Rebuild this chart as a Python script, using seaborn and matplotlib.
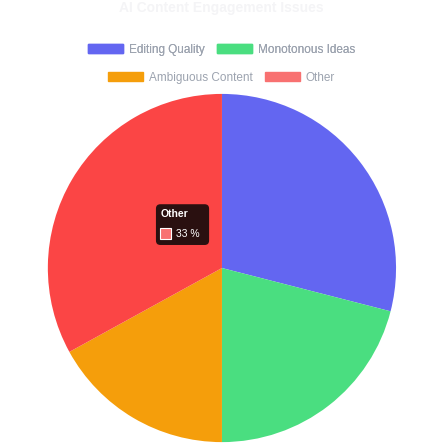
import matplotlib
matplotlib.use("Agg")
import matplotlib.pyplot as plt
import seaborn as sns
from matplotlib.patches import Patch, Rectangle, FancyBboxPatch

sns.set_theme(style="white")
plt.rcParams['font.family'] = ['Liberation Sans', 'DejaVu Sans']

# Data
labels = ["Editing Quality", "Monotonous Ideas", "Ambiguous Content", "Other"]
values = [29, 21, 17, 33]
colors = ["#6366f1", "#4ade80", "#f59e0b", "#fb4545"]
legend_colors = ["#6366f1", "#4ade80", "#f59e0b", "#f87171"]

fig = plt.figure(figsize=(4.43, 4.43), dpi=100)
ax = fig.add_axes([0.108, 0.002, 0.786, 0.786])
ax.pie(values, colors=colors, startangle=90, counterclock=False,
       wedgeprops=dict(linewidth=0), frame=False)
ax.set_xlim(-1, 1)
ax.set_ylim(-1, 1)
ax.set_aspect("equal")
ax.axis("off")

fig.text(0.5, 0.982, "AI Content Engagement Issues", ha="center", va="center",
         fontsize=10, fontweight="bold", color="#f4f4f6")

leg_kw = dict(loc="center", ncol=2, frameon=False, fontsize=8.5, handlelength=3.0,
              handleheight=0.8, columnspacing=1.0, handletextpad=0.5,
              labelcolor="#9ca3af")
row1 = fig.legend([Patch(color=c) for c in legend_colors[:2]], labels[:2],
                  bbox_to_anchor=(0.5, 0.888), **leg_kw)
fig.add_artist(row1)
fig.legend([Patch(color=c) for c in legend_colors[2:]], labels[2:],
           bbox_to_anchor=(0.5, 0.825), **leg_kw)

# tooltip
fig.add_artist(FancyBboxPatch((0.352, 0.447), 0.12, 0.092, transform=fig.transFigure,
                              boxstyle="round,pad=0,rounding_size=0.01",
                              fc="#2a1010", ec="none"))
fig.text(0.362, 0.517, "Other", ha="left", va="center", fontsize=7.5,
         fontweight="bold", color="white")
fig.add_artist(Rectangle((0.362, 0.460), 0.025, 0.025, transform=fig.transFigure,
                         fc="#f87171", ec="white", lw=0.8))
fig.text(0.398, 0.472, "33 %", ha="left", va="center", fontsize=7.5, color="white")

fig.savefig("out.png", dpi=100)
